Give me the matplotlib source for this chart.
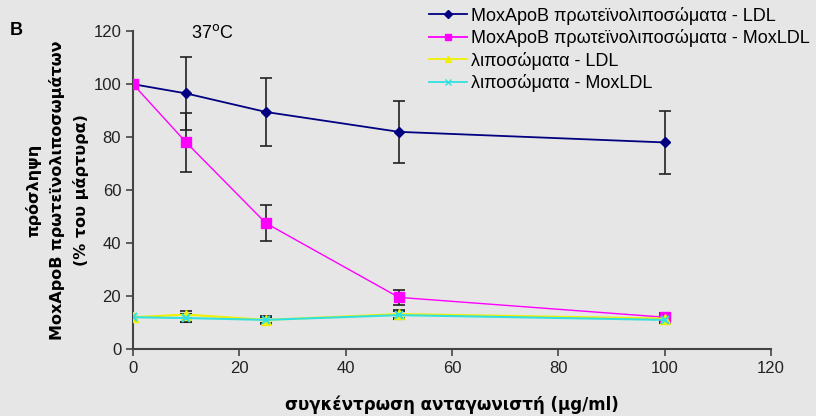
import matplotlib
matplotlib.use("Agg")
import matplotlib.pyplot as plt
from matplotlib.lines import Line2D

plt.rcParams['font.family'] = ['Liberation Sans', 'DejaVu Sans']

# Data
conc = [0, 10, 25, 50, 100]

ldl = [100, 96.5, 89.5, 82, 78]
ldl_err = [0, 13.7, 12.7, 11.8, 12]

moxldl = [100, 78, 47.5, 19.5, 12]
moxldl_err = [0, 11, 6.8, 2.8, 1.5]

lipo_ldl = [12, 13, 11, 13.2, 11.5]
lipo_ldl_err = [0, 1.2, 1.5, 1.5, 1.2]

lipo_moxldl = [12, 11.7, 11, 12.8, 11]
lipo_moxldl_err = [0, 1.5, 1.2, 1.5, 1.2]

labels = ["MoxApoB πρωτεϊνολιποσώματα - LDL",
          "MoxApoB πρωτεϊνολιποσώματα - MoxLDL",
          "λιποσώματα - LDL",
          "λιποσώματα - MoxLDL"]
colors = ["#000080", "#ff00ff", "#f0f000", "#33e0e0"]
markers = ["D", "s", "^", "x"]

bg = "#e6e6e6"
fig = plt.figure(figsize=(8.16, 4.16), dpi=100, facecolor=bg)
ax = fig.add_axes([0.163, 0.161, 0.782, 0.764], facecolor=bg)

ebar = dict(ecolor="#222222", elinewidth=1.2, capsize=4, capthick=1.2)
ax.errorbar(conc, ldl, yerr=ldl_err, color=colors[0], marker=markers[0], markersize=5,
            lw=1.3, **ebar)
ax.errorbar(conc, moxldl, yerr=moxldl_err, color=colors[1], marker=markers[1], markersize=7,
            lw=1.0, **ebar)
ax.errorbar(conc, lipo_ldl, yerr=lipo_ldl_err, color=colors[2], marker=markers[2], markersize=7,
            lw=1.5, **ebar)
ax.errorbar(conc, lipo_moxldl, yerr=lipo_moxldl_err, color=colors[3], marker=markers[3], markersize=6,
            mew=1.5, lw=1.5, **ebar)

ax.set_xlim(0, 120)
ax.set_ylim(0, 120)
ax.set_xticks(range(0, 121, 20))
ax.set_yticks(range(0, 121, 20))
for s in ["top", "right"]:
    ax.spines[s].set_visible(False)
for s in ["left", "bottom"]:
    ax.spines[s].set_color("#444444")
    ax.spines[s].set_linewidth(1.5)
ax.spines["left"].set_zorder(0)
ax.tick_params(colors="#444444", labelcolor="#222222", labelsize=12, length=5, width=1.2)

ax.set_xlabel("συγκέντρωση ανταγωνιστή (μg/ml)", fontsize=12, fontweight="bold",
              family="DejaVu Sans", labelpad=14)
ax.set_ylabel("πρόσληψη\nMoxApoB πρωτεϊνολιποσωμάτων\n(% του μάρτυρα)",
              fontsize=11.5, fontweight="bold", family="DejaVu Sans",
              linespacing=1.6, labelpad=3)

ax.text(15, 119.5, "37$^{\\mathrm{o}}$C", fontsize=13, ha="center", va="center")
fig.text(0.012, 0.915, "B", fontsize=13, fontweight="bold")

# Legend handles without the error bars
handles = [Line2D([], [], color=colors[0], marker=markers[0], markersize=4, lw=1.3),
           Line2D([], [], color=colors[1], marker=markers[1], markersize=5, lw=1.3),
           Line2D([], [], color=colors[2], marker=markers[2], markersize=5, lw=1.3),
           Line2D([], [], color=colors[3], marker=markers[3], markersize=4, mew=1, lw=1.3)]
ax.legend(handles, labels, loc="upper left", bbox_to_anchor=(0.513, 1.01),
          bbox_transform=fig.transFigure, frameon=False, fontsize=13,
          handlelength=2.1, handletextpad=0.2, labelspacing=0.25, borderaxespad=0.2)

fig.savefig("out.png", dpi=100, facecolor=bg)
